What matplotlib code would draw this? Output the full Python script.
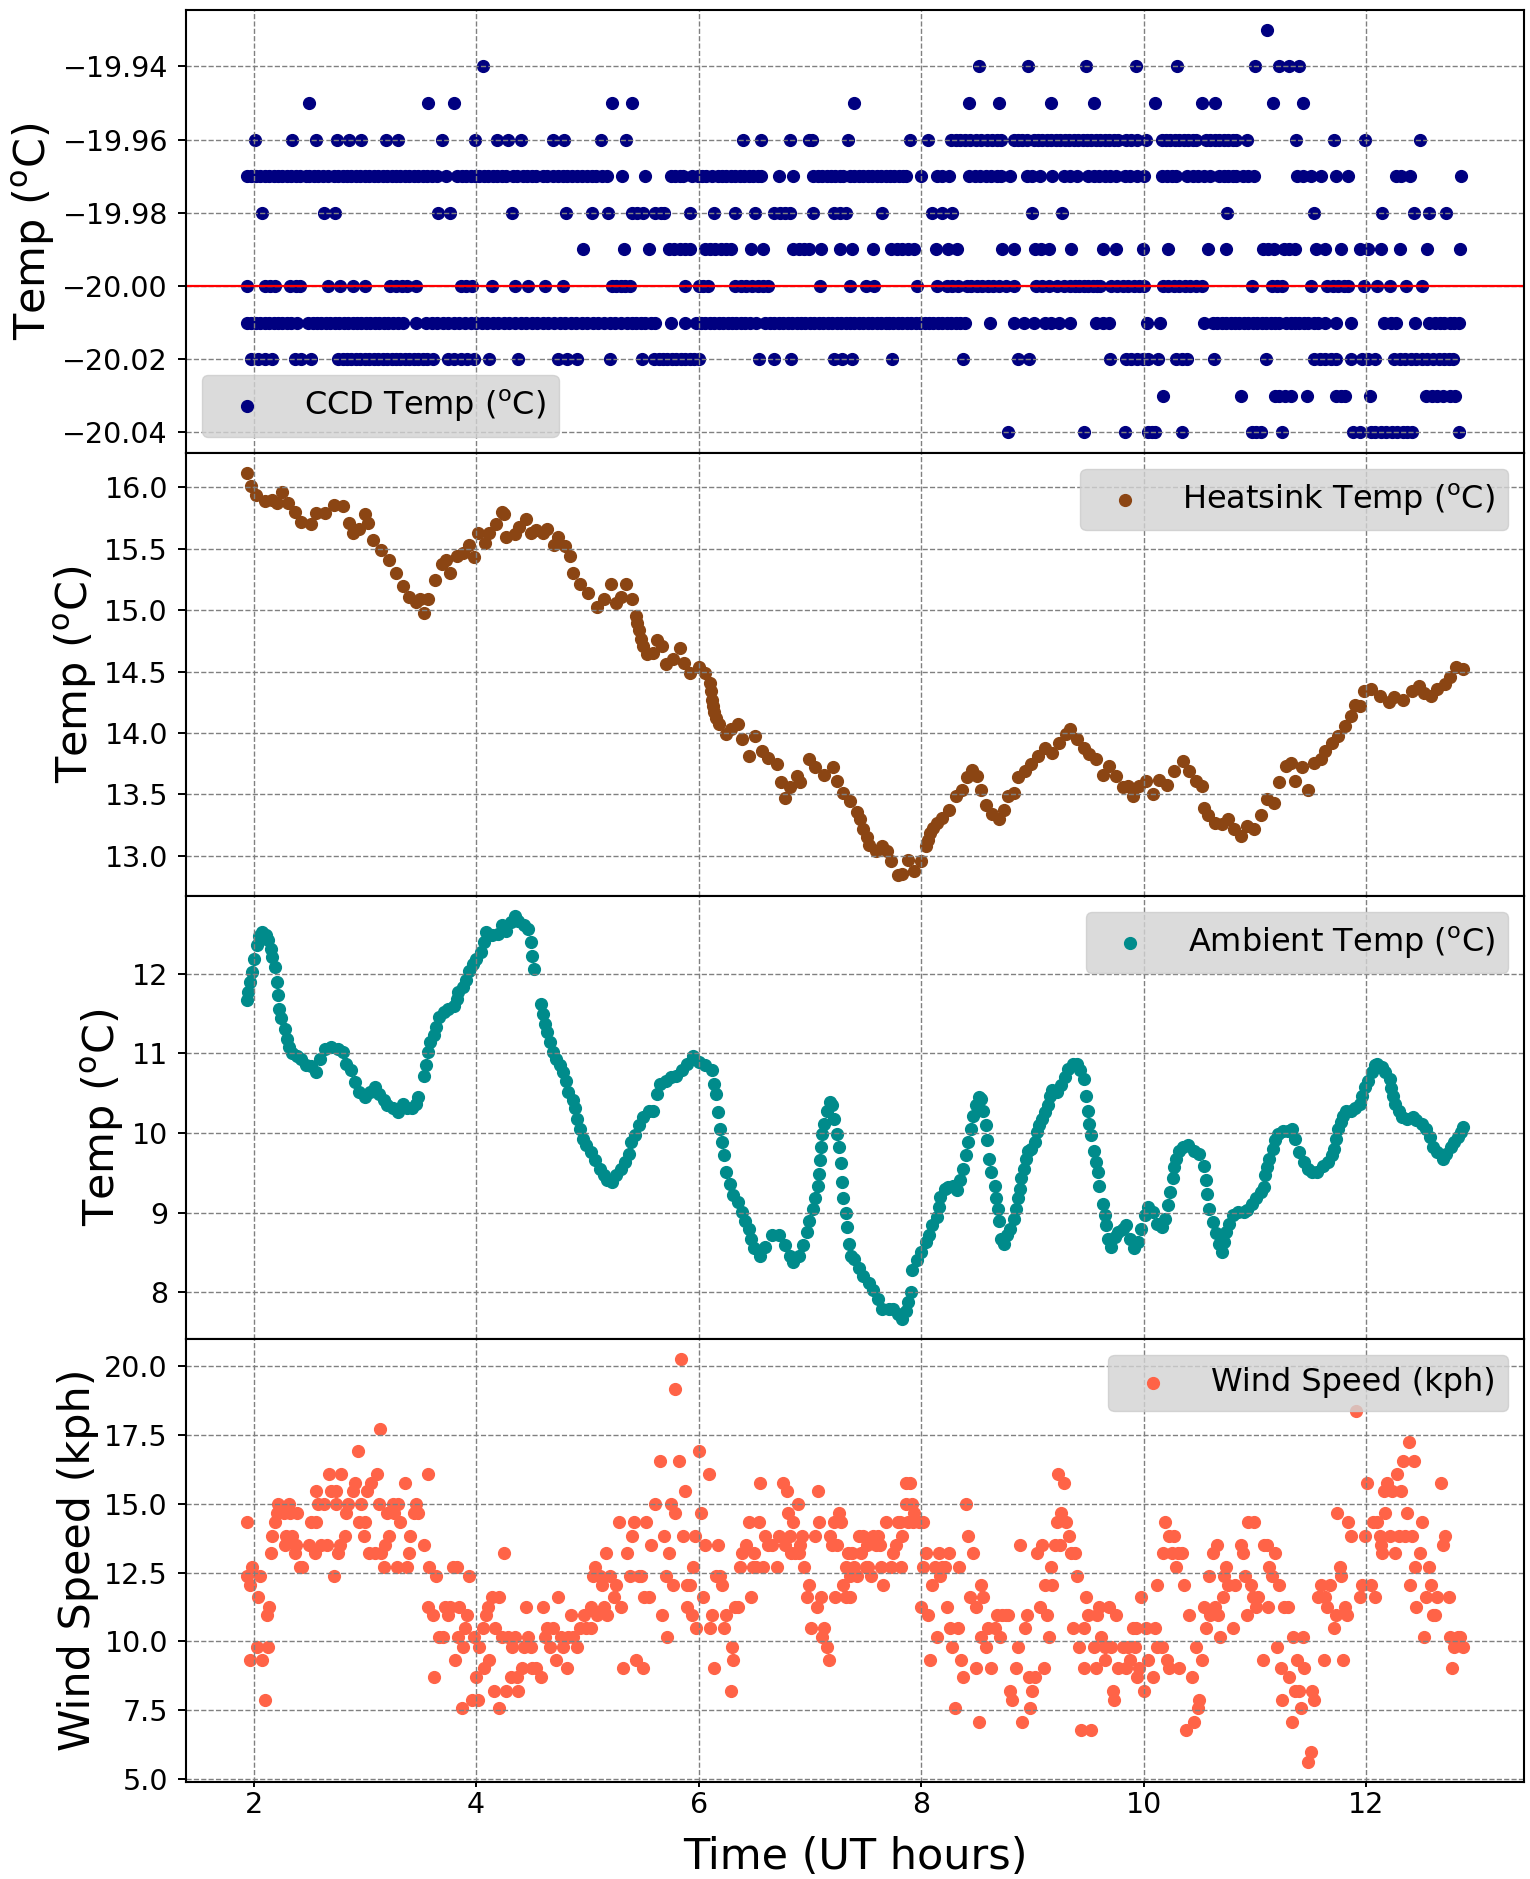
import numpy as np
import matplotlib
matplotlib.use("Agg")
import matplotlib.pyplot as plt

# ---- CCD temperature: times (UT hours) at which each quantised level was recorded ----
ccd_levels = [-19.93, -19.94, -19.95, -19.96, -19.97, -19.98, -19.99, -20.00, -20.01, -20.02, -20.03, -20.04]

ccd_m1993 = [11.11]
ccd_m1994 = [4.06, 8.52, 8.96, 9.48, 9.93, 10.30, 11.00, 11.22, 11.31, 11.40]
ccd_m1995 = [2.50, 3.57, 3.80, 5.22, 5.40, 7.40, 8.43, 8.70, 9.17, 9.55, 10.10, 10.52, 10.64, 11.16, 11.43]
ccd_m1996 = [2.01, 2.35, 2.56, 2.75, 2.86, 2.97, 3.19, 3.30, 3.69, 3.99, 4.19, 4.29, 4.40, 4.69, 4.79,
             5.12, 5.35, 6.40, 6.56, 6.82, 6.99, 7.02, 7.34, 7.90, 8.06, 8.27, 8.31, 8.35, 8.39, 8.44,
             8.49, 8.54, 8.59, 8.64, 8.68, 8.72, 8.83, 8.87, 8.91, 8.95, 9.01, 9.05, 9.09, 9.13, 9.17,
             9.21, 9.25, 9.29, 9.33, 9.37, 9.41, 9.45, 9.49, 9.53, 9.57, 9.61, 9.65, 9.69, 9.73, 9.77,
             9.84, 9.89, 9.94, 10.02, 10.16, 10.20, 10.24, 10.28, 10.32, 10.36, 10.40, 10.44, 10.47,
             10.56, 10.60, 10.64, 10.68, 10.72, 10.76, 10.80, 10.83, 10.93, 11.37, 11.71, 11.99, 12.48]
ccd_m1997 = [1.94, 1.98, 2.02, 2.06, 2.10, 2.14, 2.18, 2.22, 2.26, 2.30, 2.34, 2.38, 2.42, 2.47,
             2.50, 2.54, 2.58, 2.62, 2.67, 2.72,
             2.76, 2.80, 2.84, 2.88, 2.92, 2.96, 3.00, 3.04, 3.08, 3.12, 3.16, 3.20, 3.24, 3.28,
             3.32, 3.36, 3.40, 3.44, 3.48, 3.52, 3.56, 3.60, 3.65, 3.73,
             3.83, 3.87, 3.91, 3.95, 3.99, 4.03, 4.07, 4.11, 4.15, 4.19, 4.23, 4.27,
             4.33, 4.37, 4.42, 4.46, 4.50, 4.54, 4.60, 4.64, 4.69, 4.74, 4.78,
             4.82, 4.86, 4.91, 4.95, 5.00, 5.04, 5.08, 5.13, 5.18, 5.31, 5.52,
             5.75, 5.79, 5.83, 5.86, 5.94, 5.99, 6.03, 6.07, 6.12,
             6.17, 6.21, 6.25, 6.29, 6.33, 6.37, 6.41, 6.45, 6.49, 6.53, 6.56, 6.72, 6.85,
             7.03, 7.07, 7.11, 7.15, 7.19, 7.23, 7.27, 7.30,
             7.36, 7.40, 7.44, 7.48, 7.52, 7.56, 7.60, 7.64, 7.68, 7.72, 7.76, 7.80, 7.84, 7.86,
             8.00, 8.14, 8.19, 8.25, 8.43, 8.48, 8.53, 8.58, 8.63, 8.68, 8.72, 8.80,
             8.95, 9.00, 9.07, 9.18, 9.28, 9.34, 9.40,
             9.50, 9.55, 9.60, 9.65, 9.70, 9.75, 9.83, 9.88, 9.94, 10.00,
             10.16, 10.21, 10.25, 10.29, 10.39, 10.44, 10.49, 10.54, 10.60,
             10.68, 10.72, 10.76, 10.80, 10.83, 10.89, 10.94, 10.99,
             11.38, 11.43, 11.50, 11.59, 11.73, 11.84, 12.27, 12.31, 12.39, 12.85]
ccd_m1998 = [2.08, 2.63, 2.73, 3.66, 3.77, 4.32, 4.81, 5.04, 5.19, 5.40, 5.45, 5.50, 5.61, 5.66, 5.69,
             5.92, 6.14, 6.33, 6.51, 6.68, 6.73, 6.78, 6.82, 7.03, 7.22, 7.27, 7.32, 7.65, 8.10,
             8.19, 8.28, 9.00, 9.27, 10.75, 11.53, 12.14, 12.43, 12.56, 12.72]
ccd_m1999 = [4.96, 5.33, 5.55, 5.73, 5.78, 5.83, 5.88, 5.92, 6.06, 6.10, 6.15, 6.20, 6.25, 6.29, 6.47,
             6.58, 6.85, 6.90, 6.95, 6.99, 7.10, 7.27, 7.38, 7.57, 7.73, 7.78, 7.83, 7.88, 7.94,
             8.13, 8.24, 8.32, 8.73, 8.83, 9.02, 9.08, 9.15, 9.35, 9.63, 9.75, 9.99, 10.22, 10.58,
             10.74, 11.07, 11.12, 11.17, 11.26, 11.31, 11.36, 11.55, 11.63, 11.77, 11.94, 12.02,
             12.13, 12.30, 12.55, 12.84]
ccd_m2000 = [1.94, 2.10, 2.15, 2.19, 2.33, 2.38, 2.42, 2.67, 2.78, 2.89, 3.00, 3.23, 3.28, 3.33, 3.38,
             3.46, 3.86, 3.91, 3.96, 4.14, 4.35, 4.47, 4.62, 4.78, 5.22, 5.26, 5.30, 5.34, 5.38,
             5.88, 6.00, 6.04, 6.08, 6.33, 6.38, 6.43, 6.48, 6.53, 6.58, 6.62, 7.09, 7.36, 7.50,
             7.58, 7.96, 8.14, 8.23, 8.28, 8.33, 8.41, 8.45, 8.50, 8.55, 8.60, 8.65, 8.70, 8.76,
             8.83, 9.03, 9.09, 9.15, 9.22, 9.28, 9.34, 9.38, 9.42, 9.46, 9.50, 9.54, 9.58, 9.61,
             9.71, 9.76, 9.81, 9.86, 9.91, 9.96, 10.00, 10.17, 10.22, 10.27, 10.32, 10.37, 10.42,
             10.47, 10.52, 10.97, 11.15, 11.20, 11.24, 11.50, 11.65, 11.70, 11.75, 11.80, 11.84,
             11.98, 12.10, 12.21, 12.36, 12.50]
ccd_m2001 = [1.94, 1.98, 2.02, 2.06, 2.10, 2.14, 2.18, 2.22, 2.26, 2.30, 2.34, 2.39,
             2.49, 2.53, 2.57, 2.61, 2.65, 2.69, 2.73, 2.77, 2.81, 2.85, 2.89, 2.93, 2.97, 3.01,
             3.05, 3.09, 3.13, 3.17, 3.21, 3.25, 3.30, 3.34, 3.46,
             3.55, 3.60, 3.65, 3.70, 3.75, 3.80, 3.85, 3.90, 3.95, 4.00, 4.05, 4.10, 4.15, 4.20,
             4.25, 4.30, 4.35, 4.40, 4.45, 4.50, 4.55, 4.60, 4.65, 4.70, 4.75, 4.80, 4.85, 4.90,
             4.95, 5.00, 5.05, 5.10, 5.15, 5.20, 5.25, 5.30,
             5.36, 5.40, 5.44, 5.48, 5.52, 5.57, 5.61, 5.75, 5.88, 5.98, 6.02, 6.06, 6.10, 6.14,
             6.18, 6.22, 6.26, 6.30, 6.34, 6.38, 6.42, 6.46, 6.52,
             6.60, 6.64, 6.68, 6.72, 6.76, 6.80, 6.84, 6.88, 6.92, 6.96, 7.00, 7.04, 7.08, 7.12,
             7.16, 7.20, 7.24, 7.28, 7.32, 7.36, 7.40, 7.44, 7.48, 7.52, 7.56, 7.60, 7.64, 7.68,
             7.71, 7.75, 7.79, 7.83, 7.87, 7.91, 7.95, 7.99, 8.03, 8.07, 8.11, 8.15, 8.19, 8.23,
             8.27, 8.31, 8.35, 8.39,
             8.62, 8.83, 8.92, 9.01, 9.11, 9.17, 9.24, 9.34, 9.57, 9.63, 9.69, 10.03, 10.15, 10.54,
             10.62, 10.66, 10.70, 10.74, 10.78, 10.82, 10.86, 10.90, 10.94, 10.98, 11.02, 11.06,
             11.10, 11.14, 11.18, 11.22, 11.28, 11.32, 11.36, 11.40, 11.44, 11.48, 11.53, 11.57,
             11.63, 11.73, 11.86, 12.16, 12.22, 12.27, 12.44, 12.56, 12.62, 12.66, 12.70, 12.75,
             12.79, 12.83]
ccd_m2002 = [1.98, 2.04, 2.10, 2.17, 2.37, 2.43, 2.52,
             2.76, 2.80, 2.84, 2.88, 2.92, 2.96, 3.00, 3.04, 3.08, 3.12, 3.16, 3.20, 3.24, 3.28,
             3.32, 3.36, 3.40, 3.44, 3.48, 3.52, 3.56, 3.61,
             3.75, 3.80, 3.86, 3.92, 3.98, 4.12, 4.38, 4.74, 4.82, 4.91, 5.20, 5.49, 5.60, 5.64,
             5.68, 5.72, 5.76, 5.80, 5.84, 5.88, 5.92, 5.96, 6.00,
             6.54, 6.68, 6.83, 7.22, 7.29, 7.38, 7.74, 8.38, 8.87, 8.97, 9.70, 9.84, 9.89, 9.94,
             9.99, 10.04, 10.13, 10.29, 10.34, 10.39, 10.63, 11.10, 11.53, 11.58, 11.63, 11.68,
             11.73, 11.86, 11.96, 12.02, 12.08, 12.25, 12.30, 12.35, 12.40, 12.45, 12.50, 12.55,
             12.60, 12.65, 12.70, 12.74, 12.78]
ccd_m2003 = [10.17, 10.87, 11.18, 11.22, 11.27, 11.32, 11.47, 11.73, 11.77, 11.81, 12.03, 12.54,
             12.59, 12.64, 12.69, 12.75, 12.80]
ccd_m2004 = [8.78, 9.46, 9.83, 10.04, 10.07, 10.10, 10.34, 10.97, 11.01, 11.05, 11.24, 11.88, 11.94,
             12.04, 12.08, 12.13, 12.18, 12.23, 12.28, 12.33, 12.37, 12.41, 12.83]

ccd_times_by_level = [ccd_m1993, ccd_m1994, ccd_m1995, ccd_m1996, ccd_m1997, ccd_m1998,
                      ccd_m1999, ccd_m2000, ccd_m2001, ccd_m2002, ccd_m2003, ccd_m2004]
ccd_setpoint = -20.00

# ---- Heatsink temperature ----
heat_time = [1.94, 1.98, 2.02, 2.10, 2.17, 2.21, 2.26, 2.31, 2.37, 2.43, 2.52, 2.56, 2.64, 2.72, 2.80,
             2.86, 2.89, 2.95, 3.00, 3.03, 3.07, 3.15, 3.22, 3.28, 3.34, 3.40, 3.46, 3.50, 3.53, 3.57,
             3.63, 3.69, 3.73, 3.77, 3.83, 3.88, 3.94, 3.98, 4.02, 4.08, 4.12, 4.18, 4.23, 4.25, 4.27,
             4.35, 4.39, 4.45, 4.49, 4.54, 4.60, 4.64, 4.70, 4.74, 4.80, 4.84, 4.87, 4.93, 5.01, 5.09,
             5.15, 5.21, 5.26, 5.30, 5.35, 5.40, 5.44, 5.45, 5.46, 5.48, 5.50, 5.54, 5.59, 5.63, 5.67,
             5.71, 5.77, 5.83, 5.87, 5.92, 6.00, 6.06, 6.10, 6.11, 6.12, 6.13, 6.14, 6.16, 6.18, 6.25,
             6.29, 6.35, 6.39, 6.45, 6.51, 6.57, 6.62, 6.70, 6.74, 6.78, 6.82, 6.88, 6.91, 6.99, 7.05,
             7.13, 7.21, 7.24, 7.30, 7.36, 7.42, 7.45, 7.48, 7.51, 7.53, 7.59, 7.65, 7.69, 7.73, 7.79,
             7.83, 7.88, 7.94, 8.00, 8.04, 8.06, 8.08, 8.11, 8.14, 8.19, 8.25, 8.31, 8.37, 8.41, 8.46,
             8.50, 8.54, 8.58, 8.64, 8.70, 8.74, 8.78, 8.83, 8.87, 8.93, 8.99, 9.05, 9.11, 9.18, 9.24,
             9.30, 9.34, 9.40, 9.46, 9.51, 9.57, 9.63, 9.69, 9.75, 9.81, 9.86, 9.90, 9.96, 10.02, 10.08,
             10.14, 10.21, 10.27, 10.35, 10.41, 10.47, 10.52, 10.54, 10.58, 10.64, 10.70, 10.76, 10.81,
             10.87, 10.93, 10.99, 11.05, 11.11, 11.17, 11.22, 11.28, 11.32, 11.36, 11.42, 11.48, 11.53,
             11.59, 11.63, 11.69, 11.75, 11.81, 11.86, 11.90, 11.94, 11.98, 12.04, 12.12, 12.20, 12.25,
             12.33, 12.41, 12.47, 12.52, 12.58, 12.64, 12.71, 12.75, 12.81, 12.87]
heat_temp = [16.12, 16.01, 15.94, 15.89, 15.90, 15.87, 15.96, 15.87, 15.80, 15.72, 15.70, 15.79, 15.79, 15.86, 15.85,
             15.71, 15.63, 15.66, 15.78, 15.71, 15.57, 15.49, 15.41, 15.30, 15.20, 15.11, 15.07, 15.09, 14.98, 15.09,
             15.25, 15.38, 15.41, 15.30, 15.44, 15.47, 15.53, 15.43, 15.63, 15.55, 15.63, 15.70, 15.80, 15.78, 15.60,
             15.62, 15.68, 15.74, 15.63, 15.65, 15.63, 15.66, 15.53, 15.60, 15.52, 15.44, 15.30, 15.21, 15.14, 15.03,
             15.09, 15.21, 15.06, 15.11, 15.21, 15.09, 14.95, 14.90, 14.84, 14.77, 14.71, 14.64, 14.65, 14.76, 14.71,
             14.56, 14.60, 14.69, 14.57, 14.49, 14.54, 14.49, 14.41, 14.34, 14.27, 14.22, 14.17, 14.12, 14.07, 13.99,
             14.03, 14.07, 13.95, 13.81, 13.98, 13.85, 13.80, 13.75, 13.60, 13.47, 13.56, 13.65, 13.60, 13.79, 13.72,
             13.66, 13.72, 13.61, 13.51, 13.45, 13.36, 13.30, 13.22, 13.15, 13.09, 13.04, 13.08, 13.04, 12.96, 12.84,
             12.85, 12.97, 12.88, 12.96, 13.08, 13.13, 13.19, 13.23, 13.27, 13.31, 13.37, 13.49, 13.54, 13.64, 13.70,
             13.65, 13.54, 13.41, 13.34, 13.30, 13.37, 13.49, 13.51, 13.64, 13.69, 13.75, 13.81, 13.88, 13.84, 13.92,
             13.99, 14.03, 13.95, 13.88, 13.83, 13.79, 13.66, 13.73, 13.65, 13.56, 13.57, 13.49, 13.57, 13.61, 13.50,
             13.62, 13.58, 13.69, 13.77, 13.69, 13.61, 13.57, 13.39, 13.33, 13.27, 13.26, 13.30, 13.22,
             13.16, 13.24, 13.22, 13.33, 13.46, 13.43, 13.60, 13.73, 13.76, 13.61, 13.72, 13.54, 13.76,
             13.79, 13.85, 13.92, 13.98, 14.06, 14.14, 14.23, 14.22, 14.34, 14.36, 14.30, 14.25, 14.29,
             14.27, 14.34, 14.38, 14.33, 14.30, 14.36, 14.40, 14.46, 14.54, 14.52]

# ---- Ambient temperature ----
amb_time = [1.94, 1.95, 1.97, 1.99, 2.00, 2.03, 2.05, 2.08, 2.11, 2.13, 2.16, 2.17, 2.19, 2.21, 2.22,
            2.23, 2.25, 2.28, 2.30, 2.32, 2.35, 2.39, 2.43, 2.47, 2.52, 2.56, 2.60, 2.64, 2.70, 2.76,
            2.80, 2.83, 2.88, 2.91, 2.95, 3.00, 3.05, 3.09, 3.13, 3.17, 3.20, 3.25, 3.30, 3.34, 3.38,
            3.42, 3.46, 3.48, 3.53, 3.55, 3.57, 3.59, 3.62, 3.64, 3.67, 3.71, 3.75, 3.80, 3.83, 3.84,
            3.88, 3.91, 3.94, 3.97, 4.00, 4.04, 4.07, 4.09, 4.14, 4.20, 4.23, 4.27, 4.31, 4.35, 4.38,
            4.43, 4.47, 4.49, 4.50, 4.52, 4.58, 4.60, 4.62, 4.64, 4.66, 4.69, 4.72, 4.75, 4.78, 4.81,
            4.83, 4.87, 4.89, 4.91, 4.93, 4.96, 4.99, 5.03, 5.07, 5.11, 5.15, 5.18, 5.22, 5.26, 5.30,
            5.34, 5.37, 5.39, 5.43, 5.46, 5.50, 5.55, 5.59, 5.63, 5.65, 5.71, 5.75, 5.80, 5.85, 5.90,
            5.95, 6.00, 6.06, 6.12, 6.14, 6.16, 6.17, 6.19, 6.21, 6.23, 6.25, 6.28, 6.31, 6.35, 6.39,
            6.42, 6.45, 6.47, 6.50, 6.55, 6.60, 6.66, 6.72, 6.78, 6.82, 6.85, 6.90, 6.94, 6.97, 6.99,
            7.03, 7.05, 7.07, 7.08, 7.09, 7.10, 7.11, 7.13, 7.15, 7.18, 7.20, 7.22, 7.24, 7.26, 7.28,
            7.29, 7.30, 7.32, 7.33, 7.35, 7.37,
            7.40, 7.44, 7.48, 7.53, 7.57, 7.61, 7.65, 7.71, 7.75, 7.79, 7.83, 7.86, 7.88, 7.91, 7.92,
            7.96, 8.00, 8.04, 8.07, 8.10, 8.14, 8.16, 8.17, 8.21, 8.24, 8.29, 8.32, 8.35, 8.38, 8.40,
            8.42, 8.45, 8.47, 8.49, 8.52, 8.54, 8.56, 8.58, 8.59, 8.61, 8.63, 8.66, 8.67, 8.69, 8.70,
            8.72, 8.74, 8.77, 8.80, 8.83, 8.85, 8.87, 8.89, 8.90, 8.92, 8.94, 8.96, 8.99, 9.02, 9.04,
            9.06, 9.09, 9.11, 9.14, 9.16, 9.18, 9.22, 9.26, 9.29, 9.32, 9.36, 9.40, 9.43, 9.46, 9.48,
            9.50, 9.51, 9.53, 9.55, 9.57, 9.59, 9.60, 9.63, 9.65, 9.66, 9.68, 9.71, 9.74, 9.77, 9.81,
            9.84, 9.88, 9.91, 9.95, 9.98, 10.01, 10.04, 10.08, 10.12, 10.16, 10.19, 10.22, 10.24, 10.26,
            10.27, 10.29, 10.32, 10.35, 10.40, 10.45, 10.50, 10.54, 10.56, 10.57, 10.59, 10.62, 10.65,
            10.68, 10.70, 10.72, 10.74, 10.77, 10.80, 10.85, 10.90, 10.93, 10.97, 11.01, 11.05, 11.08,
            11.09, 11.11, 11.13, 11.16, 11.18, 11.21, 11.25, 11.30, 11.33, 11.36, 11.40, 11.44, 11.48,
            11.51, 11.56, 11.61, 11.66, 11.69, 11.71, 11.73, 11.75, 11.77, 11.79, 11.82, 11.86, 11.90,
            11.94, 11.96, 11.99, 12.02, 12.05, 12.08, 12.10, 12.14, 12.17, 12.21, 12.22, 12.24, 12.26,
            12.29, 12.32, 12.37, 12.42, 12.45, 12.50, 12.54, 12.57, 12.60, 12.64, 12.69, 12.72, 12.76,
            12.79, 12.82, 12.85, 12.87]
amb_temp = [11.67, 11.77, 11.90, 12.02, 12.19, 12.36, 12.48, 12.52, 12.49, 12.42, 12.31, 12.21, 12.08, 11.90, 11.73,
            11.56, 11.44, 11.31, 11.18, 11.08, 11.00, 10.97, 10.93, 10.85, 10.84, 10.77, 10.93, 11.06, 11.08, 11.06,
            11.02, 10.87, 10.79, 10.64, 10.51, 10.45, 10.51, 10.58, 10.49, 10.42, 10.35, 10.31, 10.26, 10.37, 10.31,
            10.31, 10.37, 10.45, 10.72, 10.85, 11.02, 11.14, 11.23, 11.33, 11.46, 11.52, 11.56, 11.60, 11.69, 11.77,
            11.83, 11.92, 12.04, 12.13, 12.19, 12.27, 12.40, 12.52, 12.49, 12.50, 12.61, 12.54, 12.65, 12.73, 12.67,
            12.61, 12.56, 12.40, 12.23, 12.06, 11.62, 11.50, 11.37, 11.27, 11.14, 11.02, 10.93, 10.85, 10.77, 10.66,
            10.51, 10.41, 10.31, 10.18, 10.05, 9.93, 9.85, 9.76, 9.66, 9.55, 9.47, 9.41, 9.38, 9.47, 9.55,
            9.64, 9.74, 9.89, 9.97, 10.10, 10.20, 10.28, 10.28, 10.49, 10.62, 10.66, 10.70, 10.72, 10.79, 10.87,
            10.97, 10.89, 10.85, 10.79, 10.62, 10.49, 10.26, 10.05, 9.89, 9.72, 9.51, 9.36, 9.22, 9.13, 9.01,
            8.90, 8.80, 8.67, 8.55, 8.46, 8.57, 8.72, 8.72, 8.59, 8.46, 8.38, 8.46, 8.59, 8.76, 8.90,
            9.05, 9.18, 9.34, 9.49, 9.66, 9.82, 9.99, 10.12, 10.28, 10.39, 10.35, 10.18, 9.99, 9.82, 9.62,
            9.38, 9.18, 8.99, 8.82, 8.61, 8.46,
            8.42, 8.30, 8.21, 8.11, 8.03, 7.92, 7.79, 7.79, 7.79, 7.73, 7.67, 7.77, 7.88, 8.00, 8.28,
            8.40, 8.51, 8.63, 8.72, 8.84, 8.95, 9.07, 9.20, 9.30, 9.32, 9.34, 9.28, 9.41, 9.55, 9.72,
            9.89, 10.05, 10.22, 10.35, 10.45, 10.43, 10.28, 10.10, 9.91, 9.68, 9.51, 9.34, 9.18, 9.05, 8.90,
            8.67, 8.61, 8.72, 8.80, 8.92, 9.05, 9.18, 9.30, 9.43, 9.55, 9.68, 9.78, 9.80, 9.89, 10.01,
            10.10, 10.18, 10.26, 10.35, 10.47, 10.54, 10.51, 10.60, 10.70, 10.81, 10.87, 10.87, 10.79, 10.68, 10.47,
            10.28, 10.12, 9.97, 9.78, 9.64, 9.51, 9.34, 9.11, 8.97, 8.84, 8.67, 8.57, 8.69, 8.76, 8.80,
            8.84, 8.67, 8.55, 8.63, 8.80, 8.97, 9.07, 9.01, 8.86, 8.82, 8.92, 9.09, 9.26, 9.43,
            9.57, 9.68, 9.78, 9.82, 9.85, 9.78, 9.74, 9.59, 9.41, 9.24, 9.05, 8.88, 8.74,
            8.61, 8.51, 8.63, 8.76, 8.86, 8.97, 9.01, 9.01, 9.03, 9.11, 9.18, 9.26, 9.32,
            9.47, 9.57, 9.68, 9.80, 9.91, 9.99, 10.03, 10.03, 10.05, 9.93, 9.76, 9.64, 9.55,
            9.51, 9.51, 9.59, 9.64, 9.72, 9.80, 9.93, 10.05, 10.14, 10.22, 10.28, 10.28, 10.31,
            10.37, 10.47, 10.58, 10.66, 10.77, 10.85, 10.87, 10.83, 10.77, 10.68, 10.56, 10.47, 10.37,
            10.28, 10.20, 10.18, 10.20, 10.16, 10.12, 10.05, 9.95, 9.82, 9.76, 9.68, 9.74, 9.82,
            9.89, 9.95, 10.01, 10.08]

# ---- Wind speed ----
wind_time = [1.94, 1.99, 1.94, 1.97, 2.06, 2.04, 1.97, 2.03, 2.08, 2.13, 2.14, 2.12, 2.10, 2.16, 2.17,
             2.19, 2.21, 2.22, 2.27, 2.29, 2.28, 2.32, 2.33, 2.35, 2.37, 2.39, 2.38, 2.42, 2.44, 2.50,
             2.52, 2.55, 2.56, 2.56, 2.58, 2.61, 2.63, 2.66, 2.68, 2.70, 2.72, 2.74, 2.76, 2.78, 2.79,
             2.74, 2.82, 2.83, 2.85, 2.89, 2.91, 2.94, 2.95, 2.97, 2.99, 3.00, 3.02, 3.04, 3.06, 3.09,
             3.11, 3.13, 3.15, 3.17, 3.18, 3.20, 3.22, 3.14, 3.25, 3.26, 3.29, 3.30, 3.32, 3.36, 3.38,
             3.40, 3.41, 3.44, 3.46, 3.48, 3.53, 3.57, 3.58, 3.64, 3.57, 3.61, 3.62, 3.67, 3.70, 3.72,
             3.75, 3.77, 3.79, 3.83, 3.81, 3.84, 3.85, 3.88, 3.90, 3.92, 3.94, 3.98, 4.00, 3.96, 4.02,
             3.87, 4.03, 4.06, 4.07, 4.09, 4.11, 4.12, 4.14, 4.17, 4.16, 4.21, 4.21, 4.23, 4.25, 4.27,
             4.29, 4.31, 4.32, 4.35, 4.37, 4.38, 4.41, 4.43, 4.45, 4.47, 4.49, 4.50, 4.54, 4.58, 4.60,
             4.62, 4.64, 4.66, 4.69, 4.72, 4.74, 4.76, 4.78, 4.82, 4.83, 4.85, 4.87, 4.91, 4.93, 4.97,
             4.99, 5.03, 5.05, 5.07, 5.03, 5.09, 5.11, 5.13, 5.15, 5.17, 5.18, 5.20, 5.24, 5.26, 5.28,
             5.30, 5.32, 5.36, 5.38, 5.40, 5.42, 5.44, 5.46, 5.48, 5.50, 5.51, 5.53, 5.55, 5.57, 5.61,
             5.65, 5.67, 5.69, 5.71, 5.72, 5.73, 5.75, 5.77, 5.79, 5.79, 5.82, 5.84, 5.86, 5.88, 5.90,
             5.90, 5.92, 5.94, 5.95, 5.97, 5.98, 6.00, 6.02, 6.04, 6.06, 6.09, 6.10, 6.12, 6.14, 6.16,
             6.17, 6.19, 6.21, 6.23, 6.25, 6.29, 6.30, 6.31, 6.33, 6.35, 6.37, 6.39, 6.43, 6.45, 6.47,
             6.49, 6.50, 6.52, 6.54, 6.55, 6.58, 6.60, 6.62, 6.66, 6.70, 6.72, 6.76, 6.78, 6.79, 6.80,
             6.82, 6.83, 6.85, 6.87, 6.89, 6.90, 6.91, 6.93, 6.95, 6.99, 6.97, 7.01, 7.05, 7.07, 7.08,
             7.06, 7.10, 7.11, 7.13, 7.15, 7.17, 7.18, 7.20, 7.22, 7.23, 7.24, 7.26, 7.28, 7.30, 7.32,
             7.32, 7.34,
             7.36, 7.36, 7.38, 7.40, 7.42, 7.44, 7.46, 7.48, 7.50, 7.51, 7.52, 7.55, 7.57, 7.59, 7.61,
             7.63, 7.64, 7.66, 7.68, 7.73, 7.75, 7.77, 7.79, 7.81, 7.82, 7.83, 7.86, 7.86, 7.88, 7.90,
             7.92, 7.93, 7.94, 7.98, 8.02, 8.00, 8.04, 8.02, 8.06, 8.08, 8.10, 8.12, 8.14, 8.16, 8.17,
             8.19, 8.21, 8.23, 8.25, 8.26, 8.28, 8.30, 8.33, 8.34, 8.36, 8.38, 8.40, 8.42, 8.44, 8.47,
             8.49, 8.49, 8.52, 8.54, 8.56, 8.54, 8.58, 8.60, 8.63, 8.66, 8.68, 8.71, 8.73, 8.76, 8.78,
             8.80, 8.82, 8.85, 8.87, 8.89, 8.91, 8.93, 8.95, 8.97, 8.98, 9.00, 9.02, 9.04, 9.07, 9.09,
             9.10, 9.11, 9.13, 9.15, 9.17, 9.18, 9.20, 9.22, 9.23, 9.25, 9.26, 9.28, 9.30, 9.33, 9.35,
             9.38, 9.40, 9.36, 9.42, 9.44, 9.46, 9.46, 9.48, 9.50, 9.53, 9.55, 9.57, 9.58, 9.60, 9.62,
             9.65, 9.65, 9.69, 9.71, 9.72, 9.73, 9.75, 9.77, 9.81, 9.84, 9.86, 9.88, 9.90, 9.92, 9.93,
             9.94, 9.96, 9.98, 10.00, 10.02, 10.04, 10.08, 10.10, 10.12, 10.12, 10.16, 10.17, 10.19, 10.21, 10.23,
             10.23, 10.25, 10.27, 10.29, 10.31, 10.32, 10.34, 10.36, 10.38, 10.41, 10.43, 10.45, 10.47, 10.49, 10.50,
             10.52, 10.54, 10.56, 10.59, 10.60, 10.62, 10.64, 10.66, 10.67, 10.69, 10.71, 10.72, 10.74, 10.76, 10.80,
             10.82, 10.87, 10.89, 10.91, 10.93, 10.94, 10.96, 10.99, 10.98, 11.01, 11.03, 11.07, 11.08, 11.11, 11.12,
             11.13, 11.15, 11.18, 11.20, 11.22, 11.23, 11.24, 11.26, 11.30, 11.31, 11.33, 11.34, 11.36, 11.38, 11.40,
             11.41, 11.43, 11.44, 11.48, 11.50, 11.51, 11.53, 11.57, 11.59, 11.62, 11.63, 11.65, 11.67, 11.71, 11.73,
             11.74, 11.76, 11.77, 11.79, 11.81, 11.83, 11.84, 11.86, 11.91, 11.94, 11.96, 11.99, 12.01, 12.04, 12.06,
             12.08, 12.10, 12.12, 12.13, 12.14, 12.16, 12.17, 12.19, 12.21, 12.23, 12.26, 12.28, 12.29, 12.31, 12.33,
             12.35, 12.37, 12.39, 12.41, 12.43, 12.38, 12.44, 12.45, 12.48, 12.50, 12.52, 12.54, 12.56, 12.58, 12.60,
             12.62, 12.64, 12.67, 12.69, 12.71, 12.74, 12.75, 12.77, 12.79, 12.82, 12.84, 12.87]
wind_speed = [14.32, 12.71, 12.39, 12.06, 12.39, 11.60, 9.33, 9.81, 9.33, 9.81, 11.26, 10.96, 7.88, 13.20, 13.84,
              14.32, 14.66, 15.00, 14.66, 13.84, 13.51, 15.00, 14.66, 13.84, 13.20, 14.66, 13.51, 12.71, 12.71, 13.51,
              14.32, 13.20, 14.32, 15.45, 15.00, 13.51, 15.00, 13.51, 16.10, 15.45, 12.39, 15.00, 13.20, 13.51, 16.10,
              15.45, 13.84, 14.66, 15.00, 15.45, 15.77, 16.90, 14.32, 15.00, 13.84, 14.32, 15.45, 13.20, 15.77, 13.20,
              16.10, 15.00, 13.20, 12.71, 13.51, 14.66, 13.84, 17.71, 15.00, 14.66, 12.71, 15.00, 14.32, 15.77, 12.71,
              13.20, 13.84, 14.66, 15.00, 14.66, 13.51, 16.10, 12.71, 12.39, 11.26, 10.96, 8.69, 10.15, 10.15, 11.26,
              10.96, 11.26, 12.71, 12.71, 9.33, 10.15, 11.26, 9.81, 10.47, 10.96, 12.39, 10.15, 8.69, 7.88, 7.88,
              7.57, 9.81, 10.47, 9.02, 10.96, 11.26, 9.33, 11.60, 10.47, 8.21, 11.60, 7.57, 10.15, 13.20, 8.21,
              10.15, 8.69, 9.81, 10.15, 8.69, 8.21, 9.02, 9.81, 11.26, 10.15, 9.81, 9.02, 9.02, 8.69, 11.26,
              10.15, 10.47, 9.81, 10.47, 9.33, 11.60, 10.15, 9.81, 9.02, 10.15, 10.96, 10.15, 9.81, 10.47, 10.96,
              10.47, 10.47, 12.39, 12.71, 11.26, 10.96, 12.39, 12.06, 11.26, 13.20, 10.96, 12.39, 11.60, 12.06, 14.32,
              11.26, 9.02, 13.20, 12.39, 13.84, 14.32, 9.33, 12.39, 12.39, 9.02, 11.60, 14.32, 11.60, 13.51, 15.00,
              16.57, 10.96, 13.84, 12.39, 10.15, 13.20, 15.00, 12.06, 14.66, 19.16, 16.57, 20.27, 13.84, 15.45, 12.06,
              11.26, 12.06, 10.96, 12.71, 13.84, 10.47, 16.90, 14.66, 11.60, 13.51, 16.10, 10.47, 10.96, 9.02, 12.39,
              13.51, 12.39, 12.06, 10.47, 10.96, 8.21, 9.81, 9.33, 11.26, 11.26, 12.71, 13.20, 13.51, 14.32, 11.60,
              12.71, 13.20, 12.71, 14.32, 15.77, 12.71, 13.84, 13.51, 13.51, 12.71, 13.84, 15.77, 13.51, 15.45, 14.66,
              13.84, 13.20, 14.32, 13.20, 15.00, 13.20, 13.51, 13.84, 12.71, 12.06, 11.60, 10.47, 13.84, 15.45, 14.32,
              11.26, 11.60, 10.15, 10.47, 9.81, 9.33, 13.84, 13.51, 14.32, 11.60, 13.51, 14.66, 14.32, 12.06, 12.71,
              11.60, 13.20,
              11.60, 12.39, 13.20, 12.71, 12.39, 13.84, 13.20, 13.84, 12.71, 13.51, 12.71, 12.39, 13.84, 13.51, 13.84,
              13.51, 12.71, 12.06, 14.32, 12.71, 13.20, 13.51, 14.32, 14.32, 12.71, 13.84, 15.00, 15.77, 14.32, 15.77,
              15.00, 14.32, 14.66, 14.32, 14.32, 11.26, 13.20, 12.71, 10.96, 9.33, 12.06, 12.71, 10.15, 13.20, 12.39,
              12.71, 12.71, 11.26, 13.20, 10.47, 9.81, 7.57, 10.47, 12.71, 9.33, 8.69, 15.00, 13.84, 11.60, 13.20,
              9.02, 11.26, 7.08, 12.06, 11.60, 10.15, 9.81, 10.47, 9.02, 10.47, 10.96, 10.15, 10.96, 10.96, 10.96,
              8.21, 7.88, 9.02, 9.81, 13.51, 7.08, 10.47, 10.96, 8.69, 7.57, 8.21, 8.69, 13.20, 11.26, 13.51,
              9.02, 12.06, 10.96, 10.15, 12.71, 12.06, 13.51, 14.32, 16.10, 13.51, 14.66, 15.77, 14.32, 13.84, 13.20,
              13.20, 12.39, 10.47, 9.81, 6.76, 10.47, 9.02, 11.60, 10.96, 6.76, 9.81, 9.02, 10.96, 11.26, 10.15,
              9.33, 9.81, 11.26, 9.81, 8.21, 7.88, 10.96, 9.02, 9.81, 9.02, 9.81, 9.33, 10.47, 9.81, 10.47,
              8.69, 9.02, 11.60, 8.21, 10.47, 9.33, 8.69, 10.47, 9.81, 12.06, 9.81, 13.20, 14.32, 9.33, 9.02,
              13.84, 13.20, 13.84, 12.71, 13.20, 9.02, 13.20, 12.06, 6.76, 10.96, 8.69, 7.08, 9.81, 7.57, 7.88,
              9.33, 11.26, 10.47, 12.39, 10.96, 13.20, 11.26, 13.51, 10.96, 10.15, 11.60, 12.39, 12.71, 12.06, 10.47,
              12.06, 13.51, 13.20, 12.39, 10.96, 14.32, 12.06, 14.32, 11.60, 11.26, 11.60, 9.33, 13.51, 13.51, 11.26,
              12.71, 12.39, 13.20, 9.81, 12.06, 9.02, 7.88, 11.26, 11.26, 8.69, 7.08, 10.15, 8.21, 9.33, 8.21,
              7.57, 10.15, 9.02, 5.63, 5.97, 8.21, 7.88, 11.60, 12.06, 9.33, 11.60, 11.26, 12.06, 10.47, 10.96,
              14.66, 12.71, 12.39, 9.33, 11.26, 10.96, 14.32, 13.84, 18.38, 11.60, 12.06, 13.84, 15.77, 12.06, 14.32,
              11.60, 14.32, 13.84, 13.51, 13.20, 15.45, 14.66, 15.77, 13.84, 15.45, 13.20, 16.10, 13.84, 15.45, 16.57,
              13.84, 14.66, 12.06, 13.84, 16.57, 17.23, 12.71, 11.26, 13.20, 14.32, 10.15, 11.60, 12.71, 12.06, 10.96,
              10.96, 11.60, 15.77, 13.51, 13.84, 11.60, 10.15, 9.02, 9.81, 10.15, 10.15, 9.81]

# ---- figure ----
ccd_color = "navy"
heat_color = "saddlebrown"
amb_color = "darkcyan"
wind_color = "tomato"
msize = 72

fig, axes = plt.subplots(4, 1, sharex=True, figsize=(15.3, 18.79), dpi=100)
plt.subplots_adjust(left=0.1216, right=0.996, top=0.9949, bottom=0.0518, hspace=0)
ax1, ax2, ax3, ax4 = axes

ccd_time = np.concatenate([np.array(t) for t in ccd_times_by_level])
ccd_temp = np.concatenate([np.full(len(t), lv) for t, lv in zip(ccd_times_by_level, ccd_levels)])

deg = r"($^{\rm o}$C)"
lab_fs = 31

ax1.scatter(ccd_time, ccd_temp, s=msize, color=ccd_color, label="CCD Temp " + deg)
ax1.axhline(ccd_setpoint, color="red", linewidth=1.6)
ax1.set_yticks([-20.04, -20.02, -20.00, -19.98, -19.96, -19.94])
ax1.set_ylabel("Temp " + deg, fontsize=lab_fs)
ax1.legend(loc="lower left", fontsize=23, facecolor="lightgray")

ax2.scatter(heat_time, heat_temp, s=msize, color=heat_color, label="Heatsink Temp " + deg)
ax2.set_yticks([13.0, 13.5, 14.0, 14.5, 15.0, 15.5, 16.0])
ax2.set_ylabel("Temp " + deg, fontsize=lab_fs)
ax2.legend(loc="upper right", fontsize=23, facecolor="lightgray")

ax3.scatter(amb_time, amb_temp, s=msize, color=amb_color, label="Ambient Temp " + deg)
ax3.set_yticks([8, 9, 10, 11, 12])
ax3.set_ylabel("Temp " + deg, fontsize=lab_fs)
ax3.legend(loc="upper right", fontsize=23, facecolor="lightgray")

ax4.scatter(wind_time, wind_speed, s=msize, color=wind_color, label="Wind Speed (kph)")
ax4.set_yticks([5.0, 7.5, 10.0, 12.5, 15.0, 17.5, 20.0])
ax4.set_ylabel("Wind Speed (kph)", fontsize=lab_fs)
ax4.legend(loc="upper right", fontsize=23, facecolor="lightgray")
ax4.set_xlabel("Time (UT hours)", fontsize=lab_fs, labelpad=12)

for ax in axes:
    ax.grid(True, linestyle="--", color="gray", linewidth=1.0)
    ax.tick_params(labelsize=20.5, width=1.4)
    ax.tick_params(axis="y", length=6, pad=7)
    ax.ticklabel_format(axis="y", useOffset=False)
    for sp in ax.spines.values():
        sp.set_linewidth(1.5)

fig.savefig("out.png", dpi=100)
